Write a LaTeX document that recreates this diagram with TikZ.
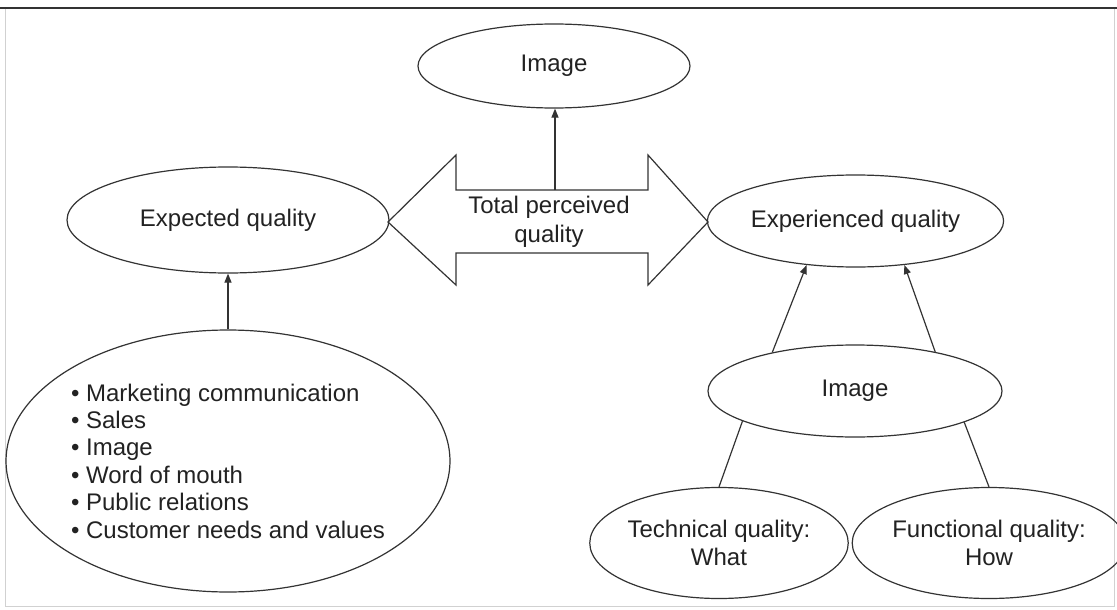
\documentclass[tikz,border=0pt]{standalone}
\usepackage{fontspec}
\setmainfont{Liberation Sans}
\usetikzlibrary{shapes.geometric,arrows.meta}
\definecolor{ink}{HTML}{222222}
\definecolor{lineclr}{HTML}{333333}
\begin{document}
\begin{tikzpicture}[x=1pt,y=-1pt,
  every node/.style={text=ink,font=\fontsize{24}{28.5}\selectfont},
  oval/.style={ellipse,draw=lineclr,line width=1.2pt,inner sep=0pt,align=center},
  conn/.style={draw=lineclr,line width=1.2pt},
  arr/.style={conn,-{Triangle[length=9pt,width=7pt]}},
  framelight/.style={draw=black!18,line width=1pt}]
\useasboundingbox (0,0) rectangle (1117,610);
\fill[white] (0,0) rectangle (1117,610);
% frame
\draw[black!80,line width=2pt] (0,8) -- (1117,8);
\draw[framelight] (5,9) -- (5,606) -- (1114,606) -- (1114,9);
% ellipses
\node[oval,minimum width=272pt,minimum height=84pt] (img1) at (554,66) {Image};
\node[oval,minimum width=322pt,minimum height=106pt] (exp) at (228,220) {Expected quality};
\node[oval,minimum width=295pt,minimum height=92pt] (exq) at (855.5,221) {Experienced quality};
\node[oval,minimum width=294pt,minimum height=92pt] (img2) at (855,391) {Image};
\node[oval,minimum width=410pt,minimum height=262pt,font=\fontsize{24}{27.4}\selectfont,align=left] (bul) at (228,461)
  {\textbullet\ Marketing communication\\
   \textbullet\ Sales\\
   \textbullet\ Image\\
   \textbullet\ Word of mouth\\
   \textbullet\ Public relations\\
   \textbullet\ Customer needs and values};
\node[oval,minimum width=229pt,minimum height=111pt] (tech) at (719,543) {Technical quality:\\What};
\node[oval,minimum width=228pt,minimum height=111pt] (func) at (989,543) {Functional quality:\\How};
% double arrow
\coordinate (lt) at (388,222);
\coordinate (rt) at (708,222);
\coordinate (shafttop) at (555,190);
\draw[conn,line join=miter] (lt) -- (456,155) -- (456,190) -- (648,190) -- (648,155) -- (rt)
  -- (648,285) -- (648,253) -- (456,253) -- (456,285) -- cycle;
\node[align=center] (tpq) at (549,222) {Total perceived\\quality};
% connectors
\draw[arr] (shafttop) -- (shafttop |- img1.south);
\draw[arr] (bul.north) -- (exp.south);
\draw[arr] (img2.155) -- (exq.222);
\draw[arr] (img2.26) -- (exq.318);
\draw[conn] (img2.195) -- (tech.north);
\draw[conn] (img2.344) -- (func.north);
\end{tikzpicture}
\end{document}
